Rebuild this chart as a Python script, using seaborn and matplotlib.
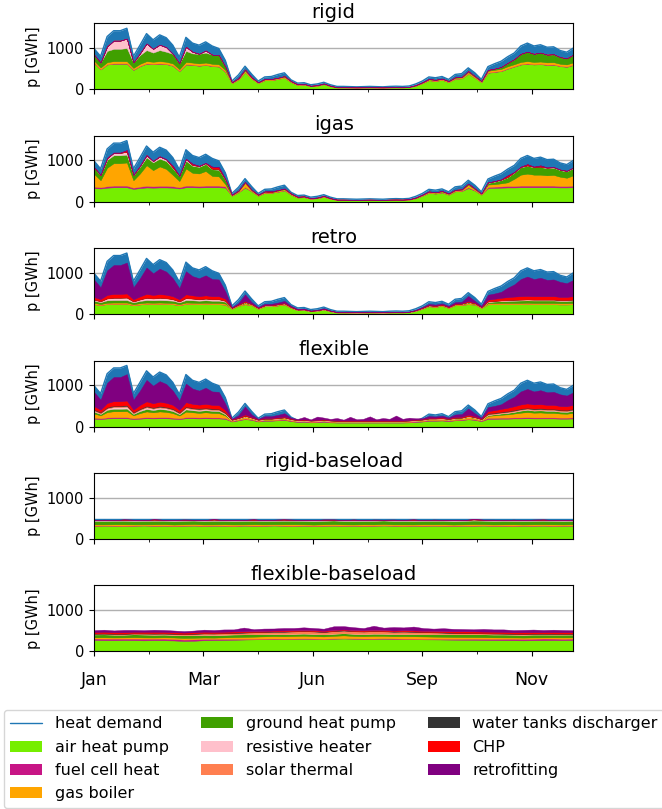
import numpy as np
import pandas as pd
import matplotlib
matplotlib.use("Agg")
import matplotlib.pyplot as plt
from matplotlib.lines import Line2D
from matplotlib.patches import Patch
import seaborn as sns

# ---------------- data (GWh) ----------------
hours = np.arange(0, 8761, 120)          # 74 sample points over the year
hours_base = np.linspace(0, 8760, 49)    # 49 sample points for baseload panels
month_ticks = [0, 2000, 4000, 6000, 8000]
month_labels = ["Jan", "Mar", "Jun", "Sep", "Nov"]
minor_ticks = [1000, 3000, 5000, 7000]

series_names = ["air heat pump", "fuel cell heat", "gas boiler", "ground heat pump",
                "resistive heater", "solar thermal", "water tanks discharger", "CHP",
                "retrofitting"]

heat_demand = [990, 800, 1280, 1420, 1420, 1480, 800, 1070, 1350, 1200,
               1320, 1250, 1070, 780, 1260, 1120, 1070, 1150, 1050, 990,
               700, 200, 350, 560, 370, 200, 300, 310, 360, 400,
               230, 150, 160, 110, 130, 170, 110, 70, 70, 65,
               60, 65, 70, 65, 60, 70, 75, 70, 80, 130,
               200, 300, 280, 310, 240, 360, 380, 520, 400, 240,
               550, 620, 680, 790, 880, 1050, 1120, 1050, 1080, 1020,
               1030, 940, 900, 1000]

# ---- rigid ----
rigid_air = [640, 480, 600, 620, 620, 620, 470, 560, 620, 610,
             620, 610, 570, 440, 600, 590, 570, 590, 560, 550,
             420, 150, 240, 420, 260, 150, 220, 220, 250, 280,
             175, 105, 115, 75, 88, 125, 75, 44, 44, 42,
             40, 42, 44, 42, 40, 44, 46, 44, 52, 88,
             150, 220, 200, 230, 175, 255, 265, 380, 280, 175,
             400, 420, 440, 500, 550, 600, 620, 600, 610, 590,
             595, 560, 545, 590]
rigid_fuel = [8, 8, 8, 8, 8, 8, 8, 8, 8, 8,
              8, 8, 8, 8, 8, 8, 8, 8, 8, 8,
              8, 1, 1, 1, 1, 1, 1, 1, 1, 1,
              1, 1, 1, 1, 1, 1, 1, 1, 1, 1,
              1, 1, 1, 1, 1, 1, 1, 1, 1, 1,
              1, 1, 1, 1, 1, 1, 1, 1, 1, 1,
              8, 8, 8, 8, 8, 8, 8, 8, 8, 8,
              8, 8, 8, 8]
rigid_gas = [50, 40, 50, 55, 55, 55, 40, 50, 55, 50,
             55, 50, 50, 40, 55, 50, 50, 50, 50, 50,
             40, 12, 20, 35, 20, 12, 18, 18, 20, 25,
             15, 10, 10, 8, 8, 10, 8, 5, 5, 5,
             5, 5, 5, 5, 5, 5, 5, 5, 6, 8,
             12, 18, 18, 20, 15, 22, 22, 35, 25, 15,
             40, 45, 45, 50, 50, 55, 55, 55, 55, 55,
             55, 50, 50, 55]
rigid_ground = [142, 122, 272, 297, 297, 317, 132, 212, 267, 222,
                267, 242, 232, 142, 267, 222, 232, 242, 222, 222,
                82, 7, 9, 24, 9, 7, 11, 11, 9, 14,
                9, 4, 4, 1, 3, 4, 1, 1, 1, 1,
                1, 1, 1, 1, 1, 1, 1, 1, 1, 3,
                7, 11, 11, 9, 9, 12, 12, 24, 14, 9,
                22, 27, 47, 82, 122, 197, 227, 197, 217, 187,
                192, 162, 147, 187]
rigid_resistive = [0, 0, 110, 200, 200, 230, 0, 40, 160, 90,
                   130, 110, 0, 0, 100, 40, 0, 50, 0, 0,
                   0, 0, 0, 0, 0, 0, 0, 0, 0, 0,
                   0, 0, 0, 0, 0, 0, 0, 0, 0, 0,
                   0, 0, 0, 0, 0, 0, 0, 0, 0, 0,
                   0, 0, 0, 0, 0, 0, 0, 0, 0, 0,
                   0, 0, 0, 0, 0, 0, 0, 0, 0, 0,
                   0, 0, 0, 0]

# ---- igas ----
igas_air = [330, 320, 340, 350, 350, 350, 310, 330, 345, 340,
            345, 345, 340, 320, 350, 350, 345, 350, 350, 350,
            340, 145, 230, 340, 250, 145, 215, 215, 240, 275,
            170, 100, 110, 72, 85, 120, 72, 42, 42, 40,
            38, 40, 42, 40, 38, 42, 44, 42, 50, 85,
            145, 215, 195, 225, 170, 250, 260, 330, 270, 170,
            330, 335, 340, 345, 345, 350, 350, 350, 350, 350,
            350, 345, 345, 350]
igas_fuel = [35, 30, 35, 40, 40, 40, 30, 35, 40, 35,
             40, 40, 35, 30, 40, 40, 35, 40, 40, 40,
             30, 3, 5, 15, 5, 3, 4, 4, 5, 6,
             3, 2, 2, 1, 1, 2, 1, 1, 1, 1,
             1, 1, 1, 1, 1, 1, 1, 1, 1, 2,
             3, 5, 5, 5, 4, 8, 8, 20, 8, 4,
             25, 30, 30, 35, 35, 40, 40, 40, 40, 40,
             40, 35, 35, 40]
igas_gas = [310, 170, 450, 545, 545, 560, 180, 320, 500, 390,
            470, 410, 275, 150, 415, 310, 305, 355, 235, 225,
            55, 12, 21, 98, 21, 12, 19, 5, 21, 22,
            17, 12, 12, 8, 10, 12, 8, 5, 5, 5,
            5, 5, 5, 5, 5, 5, 5, 5, 6, 9,
            12, 18, 18, 16, 14, 18, 18, 60, 25, 16,
            60, 60, 75, 90, 175, 265, 290, 265, 265, 250,
            260, 225, 200, 250]
igas_ground = [150, 120, 190, 190, 190, 190, 120, 160, 190, 190,
               190, 190, 160, 120, 190, 170, 160, 170, 160, 160,
               110, 8, 12, 25, 12, 8, 10, 10, 12, 15,
               8, 5, 5, 3, 3, 5, 3, 2, 2, 2,
               2, 2, 2, 2, 2, 2, 2, 2, 2, 3,
               8, 10, 10, 12, 10, 12, 12, 25, 15, 8,
               40, 60, 80, 120, 150, 180, 190, 180, 185, 175,
               175, 160, 155, 175]
igas_resistive = [10, 5, 40, 60, 60, 70, 5, 20, 50, 30,
                  50, 40, 20, 5, 40, 20, 20, 20, 15, 15,
                  10, 0, 0, 0, 0, 0, 0, 0, 0, 0,
                  0, 0, 0, 0, 0, 0, 0, 0, 0, 0,
                  0, 0, 0, 0, 0, 0, 0, 0, 0, 0,
                  0, 0, 0, 0, 0, 0, 0, 0, 0, 0,
                  10, 10, 10, 10, 10, 10, 10, 10, 10, 10,
                  10, 10, 10, 10]
igas_chp = [5, 5, 5, 5, 5, 40, 5, 5, 5, 5,
            5, 5, 40, 5, 5, 30, 5, 5, 50, 50,
            5, 2, 2, 2, 2, 2, 2, 20, 2, 2,
            1, 1, 1, 1, 1, 1, 1, 1, 1, 1,
            1, 1, 1, 1, 1, 1, 1, 1, 1, 1,
            2, 2, 2, 2, 2, 2, 2, 5, 2, 2,
            5, 5, 5, 40, 5, 5, 30, 5, 30, 5,
            5, 5, 5, 5]

# ---- retro ----
retro_air = [240, 220, 245, 250, 250, 250, 215, 235, 250, 245,
             250, 245, 240, 215, 250, 245, 240, 245, 240, 240,
             230, 130, 200, 240, 215, 130, 190, 190, 210, 230,
             150, 95, 100, 68, 80, 110, 68, 40, 40, 38,
             36, 38, 40, 38, 36, 40, 42, 40, 48, 80,
             130, 190, 175, 200, 150, 215, 225, 240, 230, 150,
             240, 240, 240, 240, 240, 240, 245, 240, 240, 240,
             240, 235, 235, 240]
retro_gas = [30, 25, 30, 30, 30, 30, 25, 30, 30, 30,
             30, 30, 30, 25, 30, 30, 30, 30, 30, 30,
             25, 10, 15, 25, 15, 10, 12, 12, 15, 18,
             10, 6, 6, 4, 5, 6, 4, 3, 3, 3,
             3, 3, 3, 3, 3, 3, 3, 3, 3, 5,
             10, 12, 12, 15, 10, 15, 15, 25, 18, 10,
             25, 25, 30, 30, 30, 30, 30, 30, 30, 30,
             30, 30, 30, 30]
retro_ground = [55, 45, 60, 60, 60, 60, 45, 55, 60, 60,
                60, 60, 55, 45, 60, 60, 55, 60, 55, 55,
                45, 5, 8, 20, 8, 5, 6, 6, 8, 10,
                5, 3, 3, 2, 2, 3, 2, 1, 1, 1,
                1, 1, 1, 1, 1, 1, 1, 1, 1, 2,
                5, 6, 6, 8, 5, 8, 8, 20, 10, 5,
                30, 40, 45, 50, 55, 60, 60, 60, 60, 60,
                60, 55, 55, 60]
retro_resistive = [20, 15, 40, 50, 50, 55, 15, 30, 50, 40,
                   50, 45, 30, 15, 45, 35, 30, 35, 30, 30,
                   15, 0, 0, 5, 0, 0, 0, 0, 0, 0,
                   0, 0, 0, 0, 0, 0, 0, 0, 0, 0,
                   0, 0, 0, 0, 0, 0, 0, 0, 0, 0,
                   0, 0, 0, 0, 0, 0, 0, 5, 0, 0,
                   5, 8, 10, 12, 15, 15, 15, 15, 15, 15,
                   15, 12, 12, 15]
retro_solar = [10, 10, 10, 10, 10, 10, 10, 10, 10, 10,
               10, 10, 10, 10, 10, 10, 10, 10, 10, 10,
               10, 5, 5, 5, 5, 5, 5, 5, 5, 5,
               5, 5, 5, 5, 5, 5, 5, 5, 5, 5,
               5, 5, 5, 5, 5, 5, 5, 5, 5, 5,
               5, 5, 5, 5, 5, 5, 5, 5, 5, 5,
               10, 10, 10, 10, 10, 10, 10, 10, 10, 10,
               10, 10, 10, 10]
retro_chp = [60, 50, 80, 90, 90, 95, 50, 70, 90, 80,
             85, 80, 70, 50, 85, 75, 70, 75, 70, 70,
             50, 8, 12, 25, 12, 8, 10, 10, 12, 15,
             8, 5, 5, 3, 4, 5, 3, 2, 2, 2,
             2, 2, 2, 2, 2, 2, 2, 2, 2, 4,
             8, 10, 10, 12, 8, 12, 12, 25, 15, 8,
             40, 50, 60, 70, 75, 80, 80, 80, 80, 80,
             80, 75, 75, 80]
retro_retrofit = [425, 285, 595, 700, 700, 750, 290, 440, 640, 525,
                  615, 560, 435, 270, 560, 465, 435, 485, 415, 405,
                  175, 12, 30, 160, 35, 12, 27, 27, 30, 42,
                  22, 6, 11, 3, 4, 11, 3, 1, 1, 1,
                  1, 1, 1, 1, 1, 1, 1, 1, 1, 4,
                  12, 27, 22, 20, 22, 35, 35, 120, 42, 22,
                  120, 127, 145, 228, 295, 415, 470, 415, 445, 395,
                  405, 363, 333, 395]

# ---- flexible ----
flex_air = [190, 180, 195, 200, 200, 200, 180, 190, 200, 195,
            200, 200, 190, 180, 200, 200, 195, 200, 195, 195,
            185, 120, 150, 180, 160, 120, 140, 140, 150, 160,
            130, 110, 115, 100, 105, 115, 100, 95, 95, 95,
            95, 95, 95, 95, 95, 95, 95, 95, 100, 110,
            120, 140, 140, 145, 130, 150, 155, 175, 160, 130,
            185, 185, 190, 190, 195, 195, 200, 195, 195, 195,
            195, 190, 190, 195]
flex_fuel = [25, 20, 25, 25, 25, 25, 20, 25, 25, 25,
             25, 25, 25, 20, 25, 25, 25, 25, 25, 25,
             20, 15, 15, 15, 15, 15, 15, 15, 15, 15,
             15, 15, 15, 15, 15, 15, 15, 15, 15, 15,
             15, 15, 15, 15, 15, 15, 15, 15, 15, 15,
             15, 15, 15, 15, 15, 15, 15, 15, 15, 15,
             25, 25, 25, 25, 25, 25, 25, 25, 25, 25,
             25, 25, 25, 25]
flex_gas = [100, 70, 130, 145, 145, 150, 70, 110, 140, 125,
            140, 130, 110, 65, 135, 120, 110, 120, 110, 105,
            60, 10, 20, 40, 20, 10, 15, 15, 20, 25,
            15, 10, 12, 10, 12, 15, 12, 10, 10, 10,
            10, 10, 10, 10, 10, 10, 10, 10, 12, 15,
            15, 20, 20, 22, 18, 25, 25, 40, 30, 15,
            50, 60, 70, 80, 95, 115, 125, 115, 120, 110,
            110, 100, 95, 110]
flex_ground = [45, 35, 55, 60, 60, 60, 35, 50, 60, 55,
               60, 55, 50, 35, 55, 50, 50, 50, 50, 50,
               30, 4, 5, 10, 5, 4, 5, 5, 5, 6,
               4, 3, 3, 3, 3, 3, 3, 3, 3, 3,
               3, 3, 3, 3, 3, 3, 3, 3, 3, 3,
               3, 4, 4, 5, 4, 5, 5, 10, 6, 4,
               20, 25, 30, 35, 40, 50, 55, 50, 52, 50,
               50, 45, 45, 50]
flex_resistive = [20, 10, 30, 40, 40, 45, 10, 25, 40, 30,
                  35, 30, 25, 10, 35, 25, 25, 25, 20, 20,
                  10, 0, 0, 0, 0, 0, 0, 0, 0, 0,
                  0, 0, 0, 0, 0, 0, 0, 0, 0, 0,
                  0, 0, 0, 0, 0, 0, 0, 0, 0, 0,
                  0, 0, 0, 0, 0, 0, 0, 0, 0, 0,
                  5, 5, 8, 10, 12, 15, 15, 15, 15, 15,
                  15, 12, 12, 15]
flex_solar = [20, 20, 20, 20, 20, 20, 20, 20, 20, 20,
              20, 20, 20, 20, 20, 20, 20, 20, 20, 20,
              20, 15, 15, 15, 15, 15, 15, 15, 15, 15,
              15, 15, 15, 15, 15, 15, 15, 15, 15, 15,
              15, 15, 15, 15, 15, 15, 15, 15, 15, 15,
              15, 15, 15, 15, 15, 15, 15, 15, 15, 15,
              20, 20, 20, 20, 20, 20, 20, 20, 20, 20,
              20, 20, 20, 20]
flex_tanks = [15, 15, 15, 15, 15, 15, 15, 15, 15, 15,
              15, 15, 15, 15, 15, 15, 15, 15, 15, 15,
              15, 3, 3, 3, 3, 3, 3, 3, 3, 3,
              3, 3, 3, 3, 3, 3, 3, 3, 3, 3,
              3, 3, 3, 3, 3, 3, 3, 3, 3, 3,
              3, 3, 3, 3, 3, 3, 3, 3, 3, 3,
              15, 15, 15, 15, 15, 15, 15, 15, 15, 15,
              15, 15, 15, 15]
flex_chp = [80, 60, 100, 110, 110, 115, 60, 90, 110, 100,
            105, 100, 90, 60, 105, 95, 90, 95, 90, 90,
            60, 10, 15, 30, 15, 10, 12, 12, 15, 18,
            12, 8, 8, 6, 8, 10, 6, 5, 5, 5,
            5, 5, 5, 5, 5, 5, 5, 5, 6, 8,
            10, 15, 15, 18, 14, 18, 18, 30, 20, 12,
            55, 60, 70, 80, 90, 100, 105, 100, 100, 95,
            95, 90, 90, 95]
flex_retrofit = [345, 240, 490, 585, 585, 640, 240, 345, 520, 425,
                 500, 455, 345, 225, 450, 370, 340, 390, 325, 320,
                 150, 10, 50, 190, 60, 10, 45, 45, 60, 80,
                 20, 20, 60, 20, 80, 40, 30, 60, 20, 90,
                 30, 40, 100, 30, 60, 40, 120, 40, 60, 30,
                 20, 40, 30, 40, 20, 60, 65, 150, 70, 20,
                 95, 105, 112, 185, 228, 315, 350, 315, 338, 305,
                 315, 283, 258, 305]

# ---- baseload scenarios (flat demand) ----
base_demand = [478]
rb_air = [318, 322, 320, 316, 320, 324, 319,
          321, 317, 320, 323, 318, 321, 320,
          316, 322, 320, 319, 324, 320, 318,
          321, 317, 320, 322, 319, 321, 318,
          320, 324, 320, 317, 321, 319, 322,
          320, 318, 321, 320, 323, 319, 320,
          317, 321, 320, 322, 318, 320, 321]
rb_fuel = [6, 5, 5, 6, 5, 5, 6,
           5, 5, 6, 5, 5, 6, 5,
           5, 6, 5, 5, 6, 5, 5,
           6, 5, 5, 6, 5, 5, 6,
           5, 5, 6, 5, 5, 6, 5,
           5, 6, 5, 5, 6, 5, 5,
           6, 5, 5, 6, 5, 5, 6]
rb_gas = [28, 25, 30, 32, 27, 24, 29,
          31, 26, 28, 33, 27, 25, 30,
          29, 24, 31, 28, 26, 30, 33,
          27, 25, 29, 31, 28, 24, 30,
          27, 32, 26, 29, 25, 31, 28,
          30, 24, 27, 33, 29, 26, 28,
          31, 25, 29, 27, 30, 26, 28]
rb_ground = [86, 84, 85, 87, 83, 85, 86,
             84, 85, 86, 83, 85, 87, 84,
             85, 86, 84, 85, 83, 86, 85,
             84, 86, 85, 87, 84, 85, 83,
             86, 85, 84, 86, 85, 83, 85,
             86, 84, 85, 87, 84, 85, 86,
             83, 85, 84, 86, 85, 84, 85]
rb_resistive = [18, 22, 15, 25, 20, 14, 28,
                17, 21, 26, 15, 19, 30, 16,
                22, 18, 24, 14, 20, 27, 16,
                21, 19, 25, 15, 22, 28, 17,
                20, 16, 24, 19, 26, 15, 21,
                18, 23, 16, 27, 19, 22, 15,
                24, 18, 21, 26, 16, 20, 18]
rb_chp = [4, 8, 2, 6, 10, 3, 7,
          5, 9, 2, 6, 4, 8, 3,
          7, 5, 10, 2, 6, 4, 9,
          3, 7, 5, 8, 2, 6, 4,
          9, 3, 7, 5, 10, 2, 6,
          4, 8, 3, 7, 5, 9, 2,
          6, 4, 8, 3, 7, 5, 4]

fb_air = [275, 270, 268, 272, 270, 265, 270,
          268, 262, 250, 255, 268, 272, 275,
          280, 285, 290, 295, 300, 298, 302,
          305, 300, 298, 305, 310, 305, 300,
          302, 305, 300, 298, 295, 290, 288,
          285, 282, 280, 278, 275, 272, 270,
          268, 265, 268, 270, 272, 270, 272]
fb_fuel = [35, 38, 40, 36, 38, 42, 37,
           40, 38, 35, 36, 34, 30, 28,
           25, 20, 15, 12, 10, 10, 8,
           8, 10, 8, 8, 6, 8, 10,
           8, 10, 12, 10, 12, 15, 18,
           20, 22, 25, 28, 30, 32, 35,
           38, 36, 38, 40, 37, 35, 36]
fb_gas = [30, 32, 28, 30, 35, 30, 28,
          32, 35, 40, 38, 32, 30, 35,
          40, 45, 50, 55, 60, 58, 62,
          65, 60, 55, 62, 70, 60, 58,
          65, 60, 55, 60, 58, 55, 50,
          48, 45, 42, 40, 38, 35, 32,
          30, 32, 30, 28, 30, 32, 30]
fb_ground = [70, 72, 70, 68, 70, 72, 70,
             68, 66, 65, 68, 70, 68, 66,
             65, 62, 60, 58, 55, 56, 55,
             54, 56, 55, 54, 52, 55, 56,
             55, 54, 56, 55, 58, 60, 62,
             64, 65, 66, 68, 70, 70, 72,
             70, 70, 72, 70, 68, 70, 70]
fb_solar = [15, 15, 16, 15, 18, 20, 22,
            20, 22, 25, 25, 28, 30, 32,
            35, 40, 45, 48, 50, 52, 55,
            58, 55, 52, 60, 65, 58, 55,
            60, 55, 52, 55, 50, 45, 40,
            35, 30, 28, 25, 22, 20, 18,
            16, 15, 15, 16, 15, 15, 15]
fb_tanks = [8, 9, 8, 8, 9, 8, 8,
            9, 8, 8, 9, 8, 8, 9,
            8, 8, 9, 8, 8, 9, 8,
            8, 9, 8, 8, 9, 8, 8,
            9, 8, 8, 9, 8, 8, 9,
            8, 8, 9, 8, 8, 9, 8,
            8, 9, 8, 8, 9, 8, 8]
fb_chp = [35, 38, 36, 35, 34, 36, 38,
          35, 33, 30, 32, 35, 33, 30,
          28, 25, 22, 20, 20, 22, 20,
          18, 20, 22, 20, 18, 20, 22,
          20, 22, 20, 22, 24, 25, 28,
          30, 32, 35, 36, 35, 38, 36,
          35, 38, 36, 35, 38, 36, 35]
fb_retrofit = [45, 50, 40, 55, 45, 40, 50,
               45, 40, 35, 40, 50, 45, 55,
               50, 90, 45, 55, 50, 60, 55,
               65, 55, 50, 90, 80, 70, 55,
               100, 60, 85, 70, 95, 65, 55,
               70, 60, 55, 50, 65, 55, 60,
               50, 55, 60, 50, 55, 50, 45]

colors = {"heat demand": "#1f77b4", "air heat pump": "#76EE00",
          "fuel cell heat": "#C71585", "gas boiler": "#FFA500",
          "ground heat pump": "#40A000", "resistive heater": "#FFC0CB",
          "solar thermal": "#FF7F50", "water tanks discharger": "#333333",
          "CHP": "#FF0000", "retrofitting": "#800080"}


def frame(x, demand, parts):
    df = pd.DataFrame({"hour": x})
    df["heat demand"] = demand
    for name in series_names:
        df[name] = parts.get(name, np.zeros(len(x)))
    return df


panels = [
    ("rigid", frame(hours, heat_demand, {
        "air heat pump": rigid_air, "fuel cell heat": rigid_fuel, "gas boiler": rigid_gas,
        "ground heat pump": rigid_ground, "resistive heater": rigid_resistive})),
    ("igas", frame(hours, heat_demand, {
        "air heat pump": igas_air, "fuel cell heat": igas_fuel, "gas boiler": igas_gas,
        "ground heat pump": igas_ground, "resistive heater": igas_resistive, "CHP": igas_chp})),
    ("retro", frame(hours, heat_demand, {
        "air heat pump": retro_air, "gas boiler": retro_gas, "ground heat pump": retro_ground,
        "resistive heater": retro_resistive, "solar thermal": retro_solar, "CHP": retro_chp,
        "retrofitting": retro_retrofit})),
    ("flexible", frame(hours, heat_demand, {
        "air heat pump": flex_air, "fuel cell heat": flex_fuel, "gas boiler": flex_gas,
        "ground heat pump": flex_ground, "resistive heater": flex_resistive,
        "solar thermal": flex_solar, "water tanks discharger": flex_tanks, "CHP": flex_chp,
        "retrofitting": flex_retrofit})),
    ("rigid-baseload", frame(hours_base, base_demand * len(hours_base), {
        "air heat pump": rb_air, "fuel cell heat": rb_fuel, "gas boiler": rb_gas,
        "ground heat pump": rb_ground, "resistive heater": rb_resistive, "CHP": rb_chp})),
    ("flexible-baseload", frame(hours_base, base_demand * len(hours_base), {
        "air heat pump": fb_air, "fuel cell heat": fb_fuel, "gas boiler": fb_gas,
        "ground heat pump": fb_ground, "solar thermal": fb_solar,
        "water tanks discharger": fb_tanks, "CHP": fb_chp, "retrofitting": fb_retrofit})),
]

# ---------------- plotting ----------------
sns.set_theme(style="white")
plt.rcParams["font.family"] = ["DejaVu Sans"]
for key in ["text.color", "axes.labelcolor", "xtick.color", "ytick.color"]:
    plt.rcParams[key] = "black"

W, H = 662, 809
fig = plt.figure(figsize=(W / 100, H / 100), dpi=100)

ax_left, ax_right, ax_h = 94, 573.3, 66
for k, (title, df) in enumerate(panels):
    top = 23.3 + 112.4 * k
    ax = fig.add_axes([ax_left / W, 1 - (top + ax_h) / H, (ax_right - ax_left) / W, ax_h / H])
    ax.fill_between(df["hour"], 0, df["heat demand"], color=colors["heat demand"],
                    lw=0, zorder=1)
    sns.lineplot(data=df, x="hour", y="heat demand", ax=ax, color=colors["heat demand"],
                 lw=1, zorder=1)
    polys = ax.stackplot(df["hour"], [df[n] for n in series_names],
                         colors=[colors[n] for n in series_names], lw=0.3, zorder=2)
    for p in polys:
        p.set_edgecolor("face")
    ax.set_xlim(0, 8760)
    ax.set_ylim(0, 1600)
    ax.set_yticks([0, 1000])
    ax.set_yticklabels(["0", "1000"], fontsize=10.5)
    ax.set_xticks(month_ticks)
    ax.set_xticks(minor_ticks, minor=True)
    if k == len(panels) - 1:
        ax.set_xticklabels(month_labels, fontsize=12.5)
    else:
        ax.set_xticklabels([])
    ax.tick_params(axis="both", which="major", bottom=True, left=True, length=3.5,
                   width=0.8, color="black", pad=3.5)
    ax.tick_params(axis="x", which="major", pad=11)
    ax.tick_params(axis="x", which="minor", bottom=True, length=2, width=0.6, color="black")
    ax.yaxis.grid(True, color="#b0b0b0", lw=1)
    ax.set_axisbelow(True)
    for s in ax.spines.values():
        s.set_color("black")
        s.set_linewidth(0.8)
    ax.set_xlabel("")
    ax.set_ylabel("p [GWh]", fontsize=10.5)
    ax.set_title(title, fontsize=14, pad=4)

handles = [Line2D([0], [0], color=colors["heat demand"], lw=1)]
handles += [Patch(facecolor=colors[n], edgecolor="none") for n in series_names]
labels = ["heat demand"] + series_names
fig.legend(handles, labels, loc="upper left", bbox_to_anchor=(4 / W, 1 - 710 / H),
           borderaxespad=0, ncol=3, fontsize=11.5, labelspacing=0.52, columnspacing=2.0,
           handlelength=2.0, frameon=True, edgecolor="#cccccc", fancybox=True)

fig.savefig("out.png", dpi=100)
